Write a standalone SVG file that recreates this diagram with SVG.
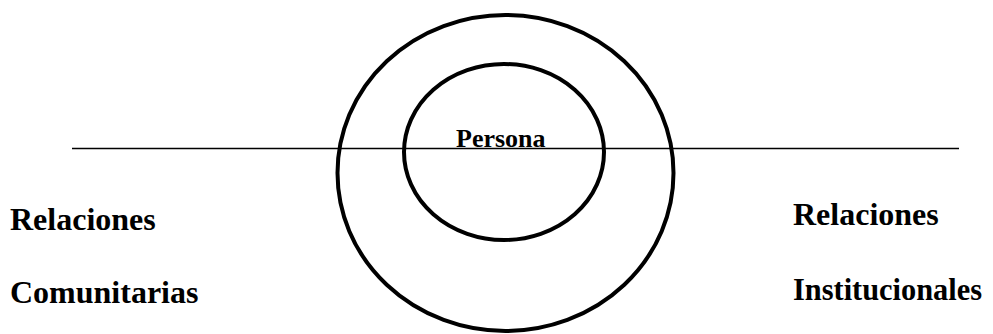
<svg xmlns="http://www.w3.org/2000/svg" width="993" height="334" viewBox="0 0 993 334">
<style>
.ring{fill:none;stroke:#000;stroke-width:4}
.lbl{font-family:"Liberation Serif","Times New Roman",serif;font-weight:bold;fill:#000}
.big{font-size:32px}
.mid{font-size:26px}
</style>
<rect width="993" height="334" fill="#fff"/>
<g id="connectors">
<line x1="72" y1="148.5" x2="959" y2="148.5" stroke="#000" stroke-width="1.4"/>
</g>
<g id="outer">
<ellipse class="ring" cx="505.5" cy="173" rx="168" ry="158"/>
</g>
<g id="persona">
<ellipse class="ring" cx="504" cy="152" rx="100" ry="88"/>
<text class="lbl mid" x="456" y="147">Persona</text>
</g>
<g id="comunitarias">
<text class="lbl big" x="10" y="230">Relaciones</text>
<text class="lbl big" x="10" y="303">Comunitarias</text>
</g>
<g id="institucionales">
<text class="lbl big" x="793" y="225">Relaciones</text>
<text class="lbl big" x="793" y="300" textLength="189" lengthAdjust="spacingAndGlyphs">Institucionales</text>
</g>
</svg>
